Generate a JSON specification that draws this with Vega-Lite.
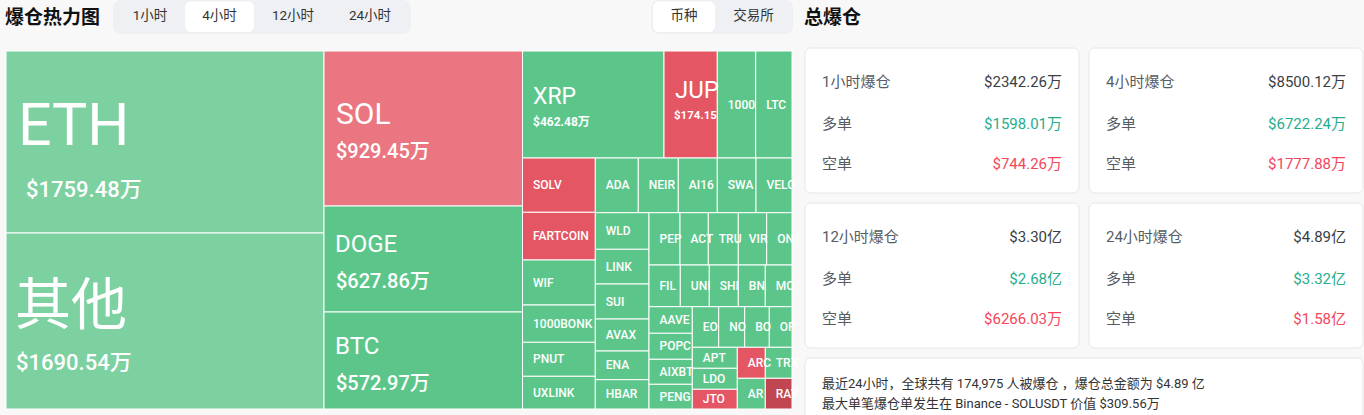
{
  "$schema": "https://vega.github.io/schema/vega-lite/v6.json",
  "width": 1364,
  "height": 415,
  "autosize": {"type": "fit", "contains": "padding"},
  "padding": 0,
  "background": "#f8f8f8",
  "config": {
    "view": {"stroke": null},
    "font": "Roboto, Noto Sans CJK SC, sans-serif",
    "locale": {"number": {"decimal": ".", "thousands": ",", "grouping": [3], "currency": ["$", "万"]}}
  },
  "datasets": {
    "tabgroups": [
      {"group": "周期", "x0": 113, "x1": 411, "y0": 0, "y1": 34},
      {"group": "维度", "x0": 651, "x1": 793, "y0": 0, "y1": 34}
    ],
    "tabs": [
      {"group": "周期", "tab": "1小时", "selected": false, "x0": 115, "x1": 185, "y0": 1.5, "y1": 32},
      {"group": "周期", "tab": "4小时", "selected": true, "x0": 185, "x1": 254, "y0": 1.5, "y1": 32},
      {"group": "周期", "tab": "12小时", "selected": false, "x0": 254, "x1": 332, "y0": 1.5, "y1": 32},
      {"group": "周期", "tab": "24小时", "selected": false, "x0": 332, "x1": 408, "y0": 1.5, "y1": 32},
      {"group": "维度", "tab": "币种", "selected": true, "x0": 653, "x1": 715, "y0": 1.5, "y1": 32},
      {"group": "维度", "tab": "交易所", "selected": false, "x0": 715, "x1": 792, "y0": 1.5, "y1": 32}
    ],
    "panels": [
      {"title": "爆仓热力图", "x": 5, "y": 18},
      {"title": "总爆仓", "x": 804, "y": 18}
    ],
    "cells": [
      {"coin": "ETH", "amount": 1759.48, "heat": "long-1", "x0": 6, "x1": 324, "y0": 51, "y1": 233},
      {"coin": "其他", "amount": 1690.54, "heat": "long-1", "x0": 6, "x1": 324, "y0": 233, "y1": 409},
      {"coin": "SOL", "amount": 929.45, "heat": "short-1", "x0": 324, "x1": 522.5, "y0": 51, "y1": 206},
      {"coin": "DOGE", "amount": 627.86, "heat": "long-2", "x0": 324, "x1": 522.5, "y0": 206, "y1": 312},
      {"coin": "BTC", "amount": 572.97, "heat": "long-2", "x0": 324, "x1": 522.5, "y0": 312, "y1": 409},
      {"coin": "XRP", "amount": 462.48, "heat": "long-2", "x0": 522.5, "x1": 664, "y0": 51, "y1": 158},
      {"coin": "JUP", "amount": 174.15, "heat": "short-2", "x0": 664, "x1": 717.3, "y0": 51, "y1": 158},
      {"coin": "1000", "heat": "long-2", "x0": 717.3, "x1": 755.7, "y0": 51, "y1": 158},
      {"coin": "LTC", "heat": "long-2", "x0": 755.7, "x1": 792, "y0": 51, "y1": 158},
      {"coin": "SOLV", "heat": "short-2", "x0": 522.5, "x1": 595.3, "y0": 158, "y1": 212.3},
      {"coin": "FARTCOIN", "heat": "short-2", "x0": 522.5, "x1": 595.3, "y0": 212.3, "y1": 260},
      {"coin": "WIF", "heat": "long-2", "x0": 522.5, "x1": 595.3, "y0": 260, "y1": 305},
      {"coin": "1000BONK", "heat": "long-2", "x0": 522.5, "x1": 595.3, "y0": 305, "y1": 342.3},
      {"coin": "PNUT", "heat": "long-2", "x0": 522.5, "x1": 595.3, "y0": 342.3, "y1": 376.3},
      {"coin": "UXLINK", "heat": "long-2", "x0": 522.5, "x1": 595.3, "y0": 376.3, "y1": 409},
      {"coin": "ADA", "heat": "long-2", "x0": 595.3, "x1": 638.3, "y0": 158, "y1": 212.7},
      {"coin": "NEIR", "heat": "long-2", "x0": 638.3, "x1": 678.3, "y0": 158, "y1": 212.7},
      {"coin": "AI16", "heat": "long-2", "x0": 678.3, "x1": 717.3, "y0": 158, "y1": 212.7},
      {"coin": "SWA", "heat": "long-2", "x0": 717.3, "x1": 756, "y0": 158, "y1": 212.7},
      {"coin": "VELO", "heat": "long-2", "x0": 756, "x1": 792, "y0": 158, "y1": 212.7},
      {"coin": "WLD", "heat": "long-2", "x0": 595.3, "x1": 649, "y0": 212.7, "y1": 249.3},
      {"coin": "LINK", "heat": "long-2", "x0": 595.3, "x1": 649, "y0": 249.3, "y1": 284},
      {"coin": "SUI", "heat": "long-2", "x0": 595.3, "x1": 649, "y0": 284, "y1": 319},
      {"coin": "AVAX", "heat": "long-2", "x0": 595.3, "x1": 649, "y0": 319, "y1": 351},
      {"coin": "ENA", "heat": "long-2", "x0": 595.3, "x1": 649, "y0": 351, "y1": 379.7},
      {"coin": "HBAR", "heat": "long-2", "x0": 595.3, "x1": 649, "y0": 379.7, "y1": 409},
      {"coin": "PEP", "heat": "long-2", "x0": 649, "x1": 680, "y0": 212.7, "y1": 265},
      {"coin": "ACT", "heat": "long-2", "x0": 680, "x1": 708.3, "y0": 212.7, "y1": 265},
      {"coin": "TRU", "heat": "long-2", "x0": 708.3, "x1": 738.3, "y0": 212.7, "y1": 265},
      {"coin": "VIR", "heat": "long-2", "x0": 738.3, "x1": 766.7, "y0": 212.7, "y1": 265},
      {"coin": "ON", "heat": "long-2", "x0": 766.7, "x1": 792, "y0": 212.7, "y1": 265},
      {"coin": "FIL", "heat": "long-2", "x0": 649, "x1": 680.3, "y0": 265, "y1": 306.7},
      {"coin": "UNI", "heat": "long-2", "x0": 680.3, "x1": 709.3, "y0": 265, "y1": 306.7},
      {"coin": "SHI", "heat": "long-2", "x0": 709.3, "x1": 738.3, "y0": 265, "y1": 306.7},
      {"coin": "BN", "heat": "long-2", "x0": 738.3, "x1": 765.3, "y0": 265, "y1": 306.7},
      {"coin": "MO", "heat": "long-2", "x0": 765.3, "x1": 792, "y0": 265, "y1": 306.7},
      {"coin": "AAVE", "heat": "long-2", "x0": 649, "x1": 692.3, "y0": 306.7, "y1": 333.3},
      {"coin": "POPC", "heat": "long-2", "x0": 649, "x1": 692.3, "y0": 333.3, "y1": 359.3},
      {"coin": "AIXBT", "heat": "long-2", "x0": 649, "x1": 692.3, "y0": 359.3, "y1": 384.3},
      {"coin": "PENG", "heat": "long-2", "x0": 649, "x1": 692.3, "y0": 384.3, "y1": 409},
      {"coin": "EO", "heat": "long-2", "x0": 692.3, "x1": 718.7, "y0": 306.7, "y1": 347.3},
      {"coin": "NO", "heat": "long-2", "x0": 718.7, "x1": 744.7, "y0": 306.7, "y1": 347.3},
      {"coin": "BO", "heat": "long-2", "x0": 744.7, "x1": 769.3, "y0": 306.7, "y1": 347.3},
      {"coin": "OP", "heat": "long-2", "x0": 769.3, "x1": 792, "y0": 306.7, "y1": 347.3},
      {"coin": "APT", "heat": "long-2", "x0": 692.3, "x1": 737.3, "y0": 347.3, "y1": 368.3},
      {"coin": "LDO", "heat": "long-2", "x0": 692.3, "x1": 737.3, "y0": 368.3, "y1": 389.3},
      {"coin": "JTO", "heat": "short-2", "x0": 692.3, "x1": 737.3, "y0": 389.3, "y1": 409},
      {"coin": "ARC", "heat": "short-2", "x0": 737.3, "x1": 765.3, "y0": 347.3, "y1": 378.3},
      {"coin": "TRX", "heat": "long-2", "x0": 765.3, "x1": 792, "y0": 347.3, "y1": 378.3},
      {"coin": "AR", "heat": "long-2", "x0": 737.3, "x1": 765.3, "y0": 378.3, "y1": 409},
      {"coin": "RAY", "heat": "short-3", "x0": 765.3, "x1": 792, "y0": 378.3, "y1": 409}
    ],
    "cards": [
      {"card": "1小时", "x0": 805, "x1": 1079, "y0": 48, "y1": 193},
      {"card": "4小时", "x0": 1089, "x1": 1363, "y0": 48, "y1": 193},
      {"card": "12小时", "x0": 805, "x1": 1079, "y0": 203, "y1": 348},
      {"card": "24小时", "x0": 1089, "x1": 1363, "y0": 203, "y1": 348},
      {"card": "概况", "x0": 805, "x1": 1363, "y0": 358, "y1": 430, "note": "最近24小时，全球共有 174,975 人被爆仓 ，爆仓总金额为 $4.89 亿\n最大单笔爆仓单发生在 Binance - SOLUSDT 价值 $309.56万"}
    ],
    "stats": [
      {"card": "1小时", "kind": "合计", "item": "1小时爆仓", "value": "$2342.26万"},
      {"card": "1小时", "kind": "多单", "item": "多单", "value": "$1598.01万"},
      {"card": "1小时", "kind": "空单", "item": "空单", "value": "$744.26万"},
      {"card": "4小时", "kind": "合计", "item": "4小时爆仓", "value": "$8500.12万"},
      {"card": "4小时", "kind": "多单", "item": "多单", "value": "$6722.24万"},
      {"card": "4小时", "kind": "空单", "item": "空单", "value": "$1777.88万"},
      {"card": "12小时", "kind": "合计", "item": "12小时爆仓", "value": "$3.30亿"},
      {"card": "12小时", "kind": "多单", "item": "多单", "value": "$2.68亿"},
      {"card": "12小时", "kind": "空单", "item": "空单", "value": "$6266.03万"},
      {"card": "24小时", "kind": "合计", "item": "24小时爆仓", "value": "$4.89亿"},
      {"card": "24小时", "kind": "多单", "item": "多单", "value": "$3.32亿"},
      {"card": "24小时", "kind": "空单", "item": "空单", "value": "$1.58亿"}
    ]
  },
  "layer": [
    {
      "data": {"name": "tabgroups"},
      "mark": {"type": "rect", "fill": "#eef0f3", "cornerRadius": 8},
      "encoding": {
        "x": {"field": "x0", "type": "quantitative", "scale": {"domain": [0, 1364], "nice": false, "zero": false}, "axis": null},
        "x2": {"field": "x1"},
        "y": {"field": "y0", "type": "quantitative", "scale": {"domain": [0, 415], "nice": false, "zero": false, "reverse": true}, "axis": null},
        "y2": {"field": "y1"}
      }
    },
    {
      "data": {"name": "tabs"},
      "layer": [
        {
          "transform": [{"filter": "datum.selected"}],
          "mark": {"type": "rect", "fill": "#ffffff", "cornerRadius": 6},
          "encoding": {
            "x": {"field": "x0", "type": "quantitative", "scale": {"domain": [0, 1364], "nice": false, "zero": false}, "axis": null},
            "x2": {"field": "x1"},
            "y": {"field": "y0", "type": "quantitative", "scale": {"domain": [0, 415], "nice": false, "zero": false, "reverse": true}, "axis": null},
            "y2": {"field": "y1"}
          }
        },
        {
          "transform": [{"fold": ["x0", "x1"], "as": ["edge", "xpos"]}],
          "mark": {"type": "text", "align": "center", "baseline": "middle", "dy": 14.5, "fontSize": 13.5, "fill": "#333333"},
          "encoding": {
            "x": {"field": "xpos", "aggregate": "mean", "type": "quantitative", "scale": {"domain": [0, 1364], "nice": false, "zero": false}, "axis": null},
            "y": {"field": "y0", "aggregate": "min", "type": "quantitative", "scale": {"domain": [0, 415], "nice": false, "zero": false, "reverse": true}, "axis": null},
            "text": {"field": "tab", "type": "nominal"}
          }
        }
      ]
    },
    {
      "data": {"name": "panels"},
      "mark": {"type": "text", "align": "left", "baseline": "middle", "fontSize": 19, "fontWeight": "bold", "fill": "#111111"},
      "encoding": {
        "x": {"field": "x", "type": "quantitative", "scale": {"domain": [0, 1364], "nice": false, "zero": false}, "axis": null},
        "y": {"field": "y", "type": "quantitative", "scale": {"domain": [0, 415], "nice": false, "zero": false, "reverse": true}, "axis": null},
        "text": {"field": "title", "type": "nominal"}
      }
    },
    {
      "data": {"name": "cells"},
      "layer": [
        {
          "mark": {"type": "rect", "stroke": "#ffffff", "strokeWidth": 1},
          "encoding": {
            "x": {"field": "x0", "type": "quantitative", "scale": {"domain": [0, 1364], "nice": false, "zero": false}, "axis": null},
            "x2": {"field": "x1"},
            "y": {"field": "y0", "type": "quantitative", "scale": {"domain": [0, 415], "nice": false, "zero": false, "reverse": true}, "axis": null},
            "y2": {"field": "y1"},
            "color": {"field": "heat", "type": "nominal", "scale": {"domain": ["long-1", "long-2", "short-1", "short-2", "short-3"], "range": ["#7dd1a0", "#5cc68a", "#ea7682", "#e45664", "#c24652"]}, "legend": null}
          }
        },
        {
          "transform": [{"fold": ["y0", "y1"], "as": ["edge", "ypos"]}],
          "encoding": {
            "x": {"field": "x0", "aggregate": "min", "type": "quantitative", "scale": {"domain": [0, 1364], "nice": false, "zero": false}, "axis": null},
            "y": {"field": "ypos", "aggregate": "mean", "type": "quantitative", "scale": {"domain": [0, 415], "nice": false, "zero": false, "reverse": true}, "axis": null}
          },
          "layer": [
            {
              "transform": [{"filter": "!isValid(datum.amount)"}],
              "mark": {"type": "text", "align": "left", "baseline": "middle", "dx": 10.5, "fontSize": 12, "fontWeight": 500, "fill": "#ffffff"},
              "encoding": {"text": {"field": "coin", "type": "nominal"}}
            },
            {
              "transform": [{"filter": {"field": "coin", "oneOf": ["ETH"]}}],
              "mark": {"type": "text", "align": "left", "baseline": "alphabetic", "dx": 12, "dy": 3, "fontSize": 59, "fill": "#ffffff"},
              "encoding": {"text": {"field": "coin", "type": "nominal"}}
            },
            {
              "transform": [{"filter": {"field": "coin", "oneOf": ["其他"]}}],
              "mark": {"type": "text", "align": "left", "baseline": "alphabetic", "dx": 9, "dy": 3, "fontSize": 56, "fill": "#ffffff"},
              "encoding": {"text": {"field": "coin", "type": "nominal"}}
            },
            {
              "transform": [{"filter": {"field": "coin", "oneOf": ["SOL"]}}],
              "mark": {"type": "text", "align": "left", "baseline": "alphabetic", "dx": 12, "dy": -5, "fontSize": 30, "fill": "#ffffff"},
              "encoding": {"text": {"field": "coin", "type": "nominal"}}
            },
            {
              "transform": [{"filter": {"field": "coin", "oneOf": ["DOGE", "BTC", "JUP"]}}],
              "mark": {"type": "text", "align": "left", "baseline": "alphabetic", "dx": 11, "dy": -7, "fontSize": 24, "fill": "#ffffff"},
              "encoding": {"text": {"field": "coin", "type": "nominal"}}
            },
            {
              "transform": [{"filter": {"field": "coin", "oneOf": ["XRP"]}}],
              "mark": {"type": "text", "align": "left", "baseline": "alphabetic", "dx": 10.5, "dy": -1, "fontSize": 23, "fill": "#ffffff"},
              "encoding": {"text": {"field": "coin", "type": "nominal"}}
            },
            {
              "transform": [{"filter": {"field": "coin", "oneOf": ["ETH"]}}],
              "mark": {"type": "text", "align": "left", "baseline": "alphabetic", "dx": 20, "dy": 55, "fontSize": 22, "fontWeight": 500, "fill": "#ffffff"},
              "encoding": {"text": {"field": "amount", "type": "quantitative", "format": "$.2f"}}
            },
            {
              "transform": [{"filter": {"field": "coin", "oneOf": ["其他"]}}],
              "mark": {"type": "text", "align": "left", "baseline": "alphabetic", "dx": 10, "dy": 49, "fontSize": 22, "fontWeight": 500, "fill": "#ffffff"},
              "encoding": {"text": {"field": "amount", "type": "quantitative", "format": "$.2f"}}
            },
            {
              "transform": [{"filter": {"field": "coin", "oneOf": ["SOL", "DOGE", "BTC"]}}],
              "mark": {"type": "text", "align": "left", "baseline": "alphabetic", "dx": 12, "dy": 29, "fontSize": 20, "fontWeight": 500, "fill": "#ffffff"},
              "encoding": {"text": {"field": "amount", "type": "quantitative", "format": "$.2f"}}
            },
            {
              "transform": [{"filter": {"field": "coin", "oneOf": ["XRP"]}}],
              "mark": {"type": "text", "align": "left", "baseline": "alphabetic", "dx": 10.5, "dy": 21.5, "fontSize": 12, "fontWeight": "bold", "fill": "#ffffff"},
              "encoding": {"text": {"field": "amount", "type": "quantitative", "format": "$.2f"}}
            },
            {
              "transform": [{"filter": {"field": "coin", "oneOf": ["JUP"]}}],
              "mark": {"type": "text", "align": "left", "baseline": "alphabetic", "dx": 10, "dy": 14.5, "fontSize": 11.5, "fontWeight": "bold", "fill": "#ffffff", "limit": 50, "ellipsis": " "},
              "encoding": {"text": {"field": "amount", "type": "quantitative", "format": "$.2f"}}
            }
          ]
        }
      ]
    },
    {
      "data": {"name": "cards"},
      "mark": {"type": "rect", "fill": "#ffffff", "stroke": "#e6e6e6", "strokeWidth": 1, "cornerRadius": 6, "clip": true},
      "encoding": {
        "x": {"field": "x0", "type": "quantitative", "scale": {"domain": [0, 1364], "nice": false, "zero": false}, "axis": null},
        "x2": {"field": "x1"},
        "y": {"field": "y0", "type": "quantitative", "scale": {"domain": [0, 415], "nice": false, "zero": false, "reverse": true}, "axis": null},
        "y2": {"field": "y1"}
      }
    },
    {
      "data": {"name": "stats"},
      "transform": [{"lookup": "card", "from": {"data": {"name": "cards"}, "key": "card", "fields": ["x0", "x1", "y0"]}}],
      "layer": [
        {
          "transform": [{"filter": "datum.kind === '合计'"}],
          "mark": {"type": "text", "align": "left", "baseline": "middle", "dx": 17, "dy": 34, "fontSize": 15, "fill": "#575c64"},
          "encoding": {
            "x": {"field": "x0", "type": "quantitative", "scale": {"domain": [0, 1364], "nice": false, "zero": false}, "axis": null},
            "y": {"field": "y0", "type": "quantitative", "scale": {"domain": [0, 415], "nice": false, "zero": false, "reverse": true}, "axis": null},
            "text": {"field": "item", "type": "nominal"}
          }
        },
        {
          "transform": [{"filter": "datum.kind === '多单'"}],
          "mark": {"type": "text", "align": "left", "baseline": "middle", "dx": 17, "dy": 76, "fontSize": 15, "fill": "#575c64"},
          "encoding": {
            "x": {"field": "x0", "type": "quantitative", "scale": {"domain": [0, 1364], "nice": false, "zero": false}, "axis": null},
            "y": {"field": "y0", "type": "quantitative", "scale": {"domain": [0, 415], "nice": false, "zero": false, "reverse": true}, "axis": null},
            "text": {"field": "item", "type": "nominal"}
          }
        },
        {
          "transform": [{"filter": "datum.kind === '空单'"}],
          "mark": {"type": "text", "align": "left", "baseline": "middle", "dx": 17, "dy": 116, "fontSize": 15, "fill": "#575c64"},
          "encoding": {
            "x": {"field": "x0", "type": "quantitative", "scale": {"domain": [0, 1364], "nice": false, "zero": false}, "axis": null},
            "y": {"field": "y0", "type": "quantitative", "scale": {"domain": [0, 415], "nice": false, "zero": false, "reverse": true}, "axis": null},
            "text": {"field": "item", "type": "nominal"}
          }
        },
        {
          "transform": [{"filter": "datum.kind === '合计'"}],
          "mark": {"type": "text", "align": "right", "baseline": "middle", "dx": -17, "dy": 34, "fontSize": 15, "fill": "#3a3e45"},
          "encoding": {
            "x": {"field": "x1", "type": "quantitative", "scale": {"domain": [0, 1364], "nice": false, "zero": false}, "axis": null},
            "y": {"field": "y0", "type": "quantitative", "scale": {"domain": [0, 415], "nice": false, "zero": false, "reverse": true}, "axis": null},
            "text": {"field": "value", "type": "nominal"}
          }
        },
        {
          "transform": [{"filter": "datum.kind === '多单'"}],
          "mark": {"type": "text", "align": "right", "baseline": "middle", "dx": -17, "dy": 76, "fontSize": 15, "fill": "#26ae8c"},
          "encoding": {
            "x": {"field": "x1", "type": "quantitative", "scale": {"domain": [0, 1364], "nice": false, "zero": false}, "axis": null},
            "y": {"field": "y0", "type": "quantitative", "scale": {"domain": [0, 415], "nice": false, "zero": false, "reverse": true}, "axis": null},
            "text": {"field": "value", "type": "nominal"}
          }
        },
        {
          "transform": [{"filter": "datum.kind === '空单'"}],
          "mark": {"type": "text", "align": "right", "baseline": "middle", "dx": -17, "dy": 116, "fontSize": 15, "fill": "#f4465b"},
          "encoding": {
            "x": {"field": "x1", "type": "quantitative", "scale": {"domain": [0, 1364], "nice": false, "zero": false}, "axis": null},
            "y": {"field": "y0", "type": "quantitative", "scale": {"domain": [0, 415], "nice": false, "zero": false, "reverse": true}, "axis": null},
            "text": {"field": "value", "type": "nominal"}
          }
        }
      ]
    },
    {
      "data": {"name": "cards"},
      "transform": [{"filter": "isValid(datum.note)"}],
      "mark": {"type": "text", "align": "left", "baseline": "top", "dx": 17, "dy": 19.5, "fontSize": 13, "lineHeight": 20, "lineBreak": "\n", "fill": "#333333"},
      "encoding": {
        "x": {"field": "x0", "type": "quantitative", "scale": {"domain": [0, 1364], "nice": false, "zero": false}, "axis": null},
        "y": {"field": "y0", "type": "quantitative", "scale": {"domain": [0, 415], "nice": false, "zero": false, "reverse": true}, "axis": null},
        "text": {"field": "note", "type": "nominal"}
      }
    }
  ]
}
